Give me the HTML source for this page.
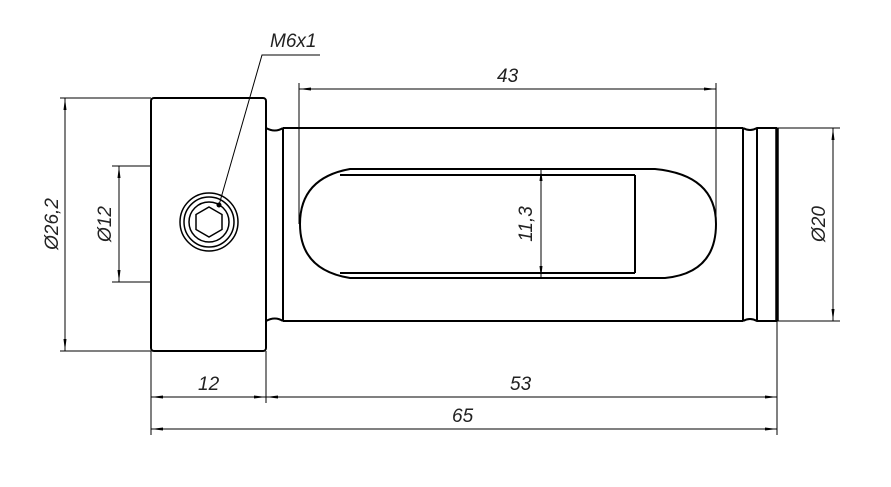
<!DOCTYPE html>
<html><head><style>body{margin:0;background:#fff}svg{display:block}text{font-family:"Liberation Sans",sans-serif;font-style:italic;font-size:19px;fill:#222}</style></head><body>
<svg width="891" height="487" viewBox="0 0 891 487" xmlns="http://www.w3.org/2000/svg">
<defs><marker id="a" markerWidth="12" markerHeight="6" refX="12" refY="3" orient="auto-start-reverse" markerUnits="userSpaceOnUse"><path d="M0,1.5 L12,3 L0,4.5z" fill="#000"/></marker></defs>
<g stroke="#000" fill="none" stroke-width="2">
<rect x="151" y="98" width="115" height="253" rx="3"/>
<path d="M266,128 Q275,133 283,128 M266,321 Q275,316 283,321"/>
<path d="M283,128 H743 M283,321 H743 M283,128 V321"/>
<path d="M743,128 Q750,132 757,128 H777 M743,321 Q750,317 757,321 H777 M743,128 V321 M757,128 V321"/>
<path d="M777,128 V321" stroke-width="3.5"/>
<path d="M350,169 H655 Q716,175 716,224 Q716,273 665,278 H350 Q300,270 300,224 Q300,178 350,169 Z"/>
<path d="M340,175 H635 M340,273 H635 M635,175 V273"/>
<circle cx="209" cy="222" r="29" stroke-width="1.5"/>
<circle cx="209" cy="222" r="25" stroke-width="1.5"/>
<circle cx="209" cy="222" r="20" stroke-width="1.5"/>
<polygon points="209,207 222,214.5 222,229.5 209,237 196,229.5 196,214.5" stroke-width="1.5"/>
</g>
<g stroke="#000" fill="none" stroke-width="1">
<path d="M219,205 L262,55 H320"/>
<path d="M60,98 H151 M60,351 H151 M112,166 H151 M112,282 H151"/>
<path d="M65,98 V351" marker-start="url(#a)" marker-end="url(#a)"/>
<path d="M119,166 V282" marker-start="url(#a)" marker-end="url(#a)"/>
<path d="M299,83 V224 M716,83 V224"/>
<path d="M299,89 H716" marker-start="url(#a)" marker-end="url(#a)"/>
<path d="M541,169 V278" marker-start="url(#a)" marker-end="url(#a)"/>
<path d="M777,128 H840 M777,321 H840"/>
<path d="M833,128 V321" marker-start="url(#a)" marker-end="url(#a)"/>
<path d="M151,351 V435 M266,351 V403 M777,321 V435"/>
<path d="M151,397 H266" marker-start="url(#a)" marker-end="url(#a)"/>
<path d="M266,397 H777" marker-start="url(#a)" marker-end="url(#a)"/>
<path d="M151,429 H777" marker-start="url(#a)" marker-end="url(#a)"/>
</g>
<circle cx="219" cy="205" r="2.5" fill="#000"/>
<text x="270" y="47">M6x1</text>
<text x="497" y="82">43</text>
<text x="198" y="390">12</text>
<text x="510" y="390">53</text>
<text x="452" y="422">65</text>
<text transform="translate(58,224) rotate(-90)" text-anchor="middle">Ø26,2</text>
<text transform="translate(111,224) rotate(-90)" text-anchor="middle">Ø12</text>
<text transform="translate(532,224) rotate(-90)" text-anchor="middle">11,3</text>
<text transform="translate(825,224) rotate(-90)" text-anchor="middle">Ø20</text>
</svg>
</body></html>
